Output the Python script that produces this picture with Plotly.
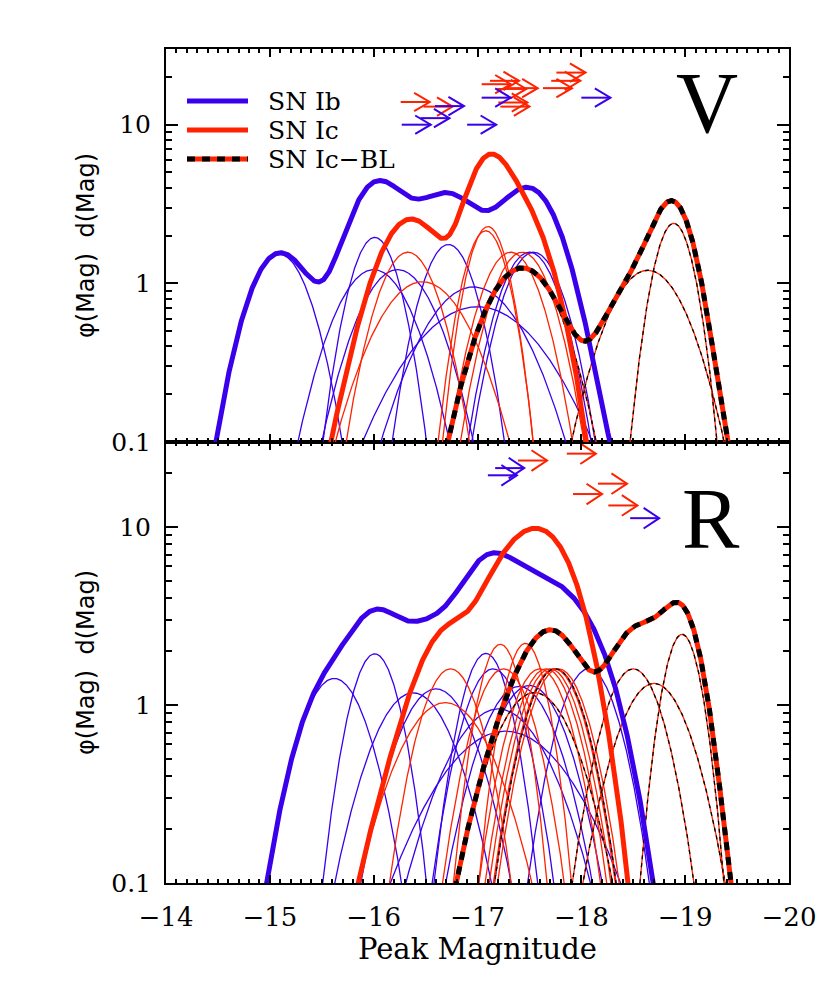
import numpy as np
import plotly.graph_objects as go

# ---------------- data ----------------
# Each SN is a unit-area Gaussian in peak magnitude: centre and 1-sigma width
V_IB_MAG = [-15.09, -16.01, -16.00, -16.23, -16.72, -16.96, -17.00, -17.50, -17.54]
V_IB_SIG = [0.261, 0.205, 0.327, 0.327, 0.227, 0.42, 0.56, 0.254, 0.254]
V_IC_MAG = [-16.33, -16.47, -17.10, -17.08, -17.32, -17.43]
V_IC_SIG = [0.254, 0.39, 0.175, 0.186, 0.254, 0.254]
V_BL_MAG = [-17.43, -18.64, -18.89]
V_BL_SIG = [0.319, 0.33, 0.167]

R_IB_MAG = [-15.62, -16.01, -16.38, -16.60, -17.08, -17.15, -17.20, -17.27, -17.40, -17.50, -17.75, -18.07]
R_IB_SIG = [0.283, 0.206, 0.341, 0.324, 0.205, 0.25, 0.42, 0.56, 0.314, 0.31, 0.25, 0.25]
R_IC_MAG = [-16.69, -16.74, -17.22, -17.25, -17.46, -17.60, -17.66, -17.70, -17.74, -17.78]
R_IC_SIG = [0.387, 0.25, 0.182, 0.25, 0.18, 0.25, 0.25, 0.25, 0.25, 0.25]
R_BL_MAG = [-17.55, -17.75, -18.50, -18.70, -18.97]
R_BL_SIG = [0.34, 0.25, 0.25, 0.302, 0.16]

# Upper limits (arrows): limit magnitude and vertical placement
V_IB_LIM_MAG = [-16.27, -16.45, -16.59, -16.90, -17.04, -18.00]
V_IB_LIM_Y = [10.0, 11.0, 13.1, 10.0, 14.8, 14.8]
V_IC_LIM_MAG = [-16.26, -16.48, -17.04, -17.12, -17.19, -17.20, -17.22, -17.30, -17.63, -17.71, -17.76]
V_IC_LIM_Y = [13.9, 13.0, 18.0, 18.9, 16.8, 13.8, 13.0, 17.0, 17.0, 18.9, 21.3]
R_IB_LIM_MAG = [-17.17, -17.10, -18.47]
R_IB_LIM_Y = [21.4, 19.5, 11.2]
R_IC_LIM_MAG = [-17.39, -17.86, -18.16, -17.92, -18.26]
R_IC_LIM_Y = [23.6, 25.8, 17.5, 15.3, 13.2]

X_TICKS = [-14, -15, -16, -17, -18, -19, -20]
X_TICK_LABELS = ["\u221214", "\u221215", "\u221216", "\u221217", "\u221218", "\u221219", "\u221220"]
Y_TICKS = [0.1, 1, 10]
Y_TICK_LABELS = ["0.1", "1", "10"]
Y_MINOR = [0.2, 0.3, 0.4, 0.5, 0.6, 0.7, 0.8, 0.9, 2, 3, 4, 5, 6, 7, 8, 9, 20, 30]

BLUE = "#3a00ec"
RED = "#ff2200"
BLACK = "#000000"

M = np.linspace(-14.0, -20.0, 1501)


def gauss(mu, sig):
    return np.exp(-(M - mu) ** 2 / (2 * sig ** 2)) / (sig * np.sqrt(2 * np.pi))


def masked(y):
    y = np.array(y, dtype=float)
    y[y < 0.02] = np.nan
    return y


fig = go.Figure()


def add_panel(ib_m, ib_s, ic_m, ic_s, bl_m, bl_s, lims, xa, ya):
    for mu, s in zip(ib_m, ib_s):
        fig.add_trace(go.Scatter(x=M, y=masked(gauss(mu, s)), mode="lines",
                                 line=dict(color=BLUE, width=1.3), xaxis=xa, yaxis=ya,
                                 showlegend=False, hoverinfo="skip"))
    for mu, s in zip(ic_m, ic_s):
        fig.add_trace(go.Scatter(x=M, y=masked(gauss(mu, s)), mode="lines",
                                 line=dict(color=RED, width=1.3), xaxis=xa, yaxis=ya,
                                 showlegend=False, hoverinfo="skip"))
    for mu, s in zip(bl_m, bl_s):
        g = masked(gauss(mu, s))
        fig.add_trace(go.Scatter(x=M, y=g, mode="lines", line=dict(color=RED, width=1.3),
                                 xaxis=xa, yaxis=ya, showlegend=False, hoverinfo="skip"))
        fig.add_trace(go.Scatter(x=M, y=g, mode="lines",
                                 line=dict(color=BLACK, width=1.3, dash="4px,4px"),
                                 xaxis=xa, yaxis=ya, showlegend=False, hoverinfo="skip"))
    s_ib = masked(sum(gauss(mu, s) for mu, s in zip(ib_m, ib_s)))
    s_ic = masked(sum(gauss(mu, s) for mu, s in zip(ic_m, ic_s)))
    s_bl = masked(sum(gauss(mu, s) for mu, s in zip(bl_m, bl_s)))
    fig.add_trace(go.Scatter(x=M, y=s_ib, mode="lines", line=dict(color=BLUE, width=5),
                             xaxis=xa, yaxis=ya, showlegend=False, name="SN Ib"))
    fig.add_trace(go.Scatter(x=M, y=s_ic, mode="lines", line=dict(color=RED, width=5),
                             xaxis=xa, yaxis=ya, showlegend=False, name="SN Ic"))
    fig.add_trace(go.Scatter(x=M, y=s_bl, mode="lines", line=dict(color=RED, width=5),
                             xaxis=xa, yaxis=ya, showlegend=False, name="SN Ic-BL"))
    fig.add_trace(go.Scatter(x=M, y=s_bl, mode="lines",
                             line=dict(color=BLACK, width=5, dash="8px,7px"),
                             xaxis=xa, yaxis=ya, showlegend=False, hoverinfo="skip"))
    for lm, ly, col in lims:
        xs, ys = [], []
        for m0, y0 in zip(lm, ly):
            tip = m0 - 0.28
            xs += [m0, tip, None, tip + 0.15, tip, tip + 0.15, None]
            ys += [y0, y0, None, y0 * 10 ** 0.058, y0, y0 * 10 ** -0.058, None]
        fig.add_trace(go.Scatter(x=xs, y=ys, mode="lines", line=dict(color=col, width=2),
                                 xaxis=xa, yaxis=ya, showlegend=False, hoverinfo="skip"))


add_panel(V_IB_MAG, V_IB_SIG, V_IC_MAG, V_IC_SIG, V_BL_MAG, V_BL_SIG,
          [(V_IC_LIM_MAG, V_IC_LIM_Y, RED), (V_IB_LIM_MAG, V_IB_LIM_Y, BLUE)], "x2", "y2")
add_panel(R_IB_MAG, R_IB_SIG, R_IC_MAG, R_IC_SIG, R_BL_MAG, R_BL_SIG,
          [(R_IC_LIM_MAG, R_IC_LIM_Y, RED), (R_IB_LIM_MAG, R_IB_LIM_Y, BLUE)], "x", "y")

XTICKFONT = dict(family="DejaVu Serif", size=26, color="black")
YTICKFONT = dict(family="DejaVu Serif", size=25, color="black")
SPLIT = 0.5288

xcommon = dict(range=[-14, -20], showgrid=False, zeroline=False, showline=True,
               linecolor="black", linewidth=2, mirror="allticks", ticks="inside",
               ticklen=8, tickwidth=2, tickcolor="black", tickmode="array",
               tickvals=X_TICKS, ticktext=X_TICK_LABELS, tickfont=XTICKFONT,
               minor=dict(ticks="inside", ticklen=4, tickwidth=1.5, tickcolor="black",
                          dtick=0.1, tick0=-14, showgrid=False))
ycommon = dict(type="log", range=[-1, np.log10(30)], showgrid=False, zeroline=False,
               showline=True, linecolor="black", linewidth=2, mirror="allticks",
               ticks="inside", ticklen=12, tickwidth=2, tickcolor="black",
               tickmode="array", tickvals=Y_TICKS, ticktext=Y_TICK_LABELS,
               tickfont=YTICKFONT, ticklabelstandoff=8,
               minor=dict(ticks="inside", ticklen=6, tickwidth=1.5, tickcolor="black",
                          tickmode="array", tickvals=Y_MINOR, showgrid=False),
               title=dict(text="\u03c6(Mag)\u00a0 d(Mag)",
                          font=dict(family="DejaVu Sans", size=24, color="black"),
                          standoff=10))

# page body has an 8px margin: figure is placed so the plot box lands at
# screen x 166..789, y 49..883
fig.update_layout(
    width=822, height=974,
    margin=dict(l=158, r=41, t=41, b=99),
    paper_bgcolor="white", plot_bgcolor="white",
    showlegend=False,
    xaxis=dict(**xcommon, anchor="y", domain=[0, 1], ticklabelstandoff=10,
               title=dict(text="Peak Magnitude",
                          font=dict(family="DejaVu Serif", size=29, color="black"),
                          standoff=4)),
    xaxis2=dict(**xcommon, anchor="y2", matches="x", showticklabels=False),
    yaxis=dict(**ycommon, anchor="x", domain=[0, SPLIT]),
    yaxis2=dict(**ycommon, anchor="x2", domain=[SPLIT, 1]),
)


def px2paper(px, py):
    return (px - 166) / 623.0, (883 - py) / 834.0


LEG = [("SN Ib", BLUE, None, 101), ("SN Ic", RED, None, 130), ("SN Ic\u2212BL", RED, "8px,7px", 159)]
for label, col, dash, py in LEG:
    x0, yy = px2paper(187, py)
    x1, _ = px2paper(248, py)
    fig.add_shape(type="line", xref="paper", yref="paper", x0=x0, x1=x1, y0=yy, y1=yy,
                  line=dict(color=col, width=5))
    if dash:
        fig.add_shape(type="line", xref="paper", yref="paper", x0=x0, x1=x1, y0=yy, y1=yy,
                      line=dict(color=BLACK, width=5, dash=dash))
    tx, _ = px2paper(267, py)
    fig.add_annotation(xref="paper", yref="paper", x=tx, y=yy, text=label, showarrow=False,
                       xanchor="left", yanchor="middle", height=26, borderpad=0,
                       font=dict(family="DejaVu Serif", size=25, color="black"))

for lab, (px, py) in [("V", (707, 103)), ("R", (711, 519))]:
    ax_, ay_ = px2paper(px, py)
    fig.add_annotation(xref="paper", yref="paper", x=ax_, y=ay_, text=lab, showarrow=False,
                       xanchor="center", yanchor="middle",
                       font=dict(family="Liberation Serif", size=86, color="black"))

fig.write_html("out.html")
